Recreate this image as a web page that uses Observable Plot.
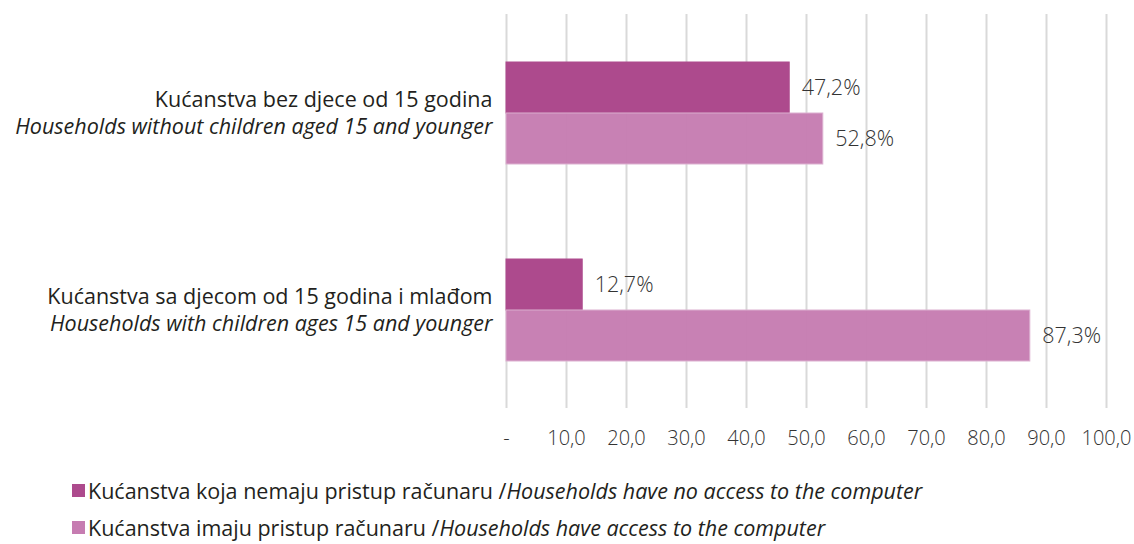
<!DOCTYPE html>
<html>
<head>
<meta charset="utf-8">
<script src="https://cdn.jsdelivr.net/npm/d3@7"></script>
<script src="https://cdn.jsdelivr.net/npm/@observablehq/plot@0.6"></script>
<style>
  body { margin: 0; background: #fff; font-family: "Open Sans", sans-serif; color: #231f20; overflow: hidden; }
  #legend { margin-top: 12px; font-size: 21.5px; white-space: nowrap; }
  .item { display: flex; align-items: center; margin-left: 72px; height: 37px; line-height: 1.2; }
  .sw { width: 13px; height: 13px; margin-right: 3px; display: inline-block; }
</style>
</head>
<body>
<div id="chart"></div>
<div id="legend"></div>
<script>
const categories = ["Kućanstva bez djece od 15 godina", "Kućanstva sa djecom od 15 godina i mlađom"];
const categoriesEn = ["Households without children aged 15 and younger", "Households with children ages 15 and younger"];
const seriesNames = ["Kućanstva koja nemaju pristup računaru /", "Kućanstva imaju pristup računaru /"];
const seriesNamesEn = ["Households have no access to the computer", "Households have access to the computer"];
const noAccess = [47.2, 12.7];
const access = [52.8, 87.3];
const ticks = [0, 10, 20, 30, 40, 50, 60, 70, 80, 90, 100];
const colors = ["#ad4a8d", "#c67cb1"];

const data = [];
categories.forEach((c, i) => {
  data.push({category: c, series: seriesNames[0], value: noAccess[i]});
  data.push({category: c, series: seriesNames[1], value: access[i]});
});
const catData = categories.map((c, i) => ({category: c, en: categoriesEn[i]}));
const fmt = v => v.toFixed(1).replace(".", ",");

const chart = Plot.plot({
  width: 1134,
  height: 460,
  marginLeft: 506,
  marginRight: 28,
  marginTop: 14,
  marginBottom: 52,
  style: {fontFamily: "'Open Sans', sans-serif", fontSize: "20px", color: "#231f20", overflow: "visible"},
  x: {domain: [0, 100], axis: null, label: null},
  y: {domain: seriesNames, axis: null, paddingInner: 0, paddingOuter: 0.93},
  fy: {domain: categories, axis: null, padding: 0},
  color: {domain: seriesNames, range: colors},
  marks: [
    Plot.gridX(ticks, {stroke: "#d9d9d9", strokeOpacity: 1, strokeWidth: 2}),
    Plot.barX(data, {
      x: "value", y: "series", fy: "category",
      fill: "series",
      fillOpacity: d => d.series === seriesNames[0] ? 1 : 0.96,
      stroke: d => d.series === seriesNames[0] ? "#ad4a8d" : "#dcb0d0",
      strokeWidth: 1
    }),
    Plot.text(data, {
      x: "value", y: "series", fy: "category",
      text: d => fmt(d.value) + "%",
      textAnchor: "start", dx: 12, fill: "#333", fontSize: 21.5, fontWeight: 300
    }),
    Plot.text(catData, {
      fy: "category", x: 0, text: "category", textAnchor: "end",
      dx: -14, dy: -13, fontSize: 21.5, fill: "#231f20"
    }),
    Plot.text(catData, {
      fy: "category", x: 0, text: "en", textAnchor: "end",
      dx: -14, dy: 14, fontSize: 21.5, fontStyle: "italic", fill: "#231f20"
    }),
    Plot.axisX(ticks, {
      anchor: "bottom", tickSize: 0, tickPadding: 22, label: null,
      tickFormat: d => d === 0 ? "-" : fmt(d),
      fontSize: 20, fill: "#333", fontWeight: 300
    })
  ]
});
document.getElementById("chart").appendChild(chart);

const legend = document.getElementById("legend");
seriesNames.forEach((s, i) => {
  const row = document.createElement("div");
  row.className = "item";
  row.innerHTML = `<span class="sw" style="background:${colors[i]}"></span><span>${s}<i>${seriesNamesEn[i]}</i></span>`;
  legend.appendChild(row);
});
</script>
</body>
</html>
